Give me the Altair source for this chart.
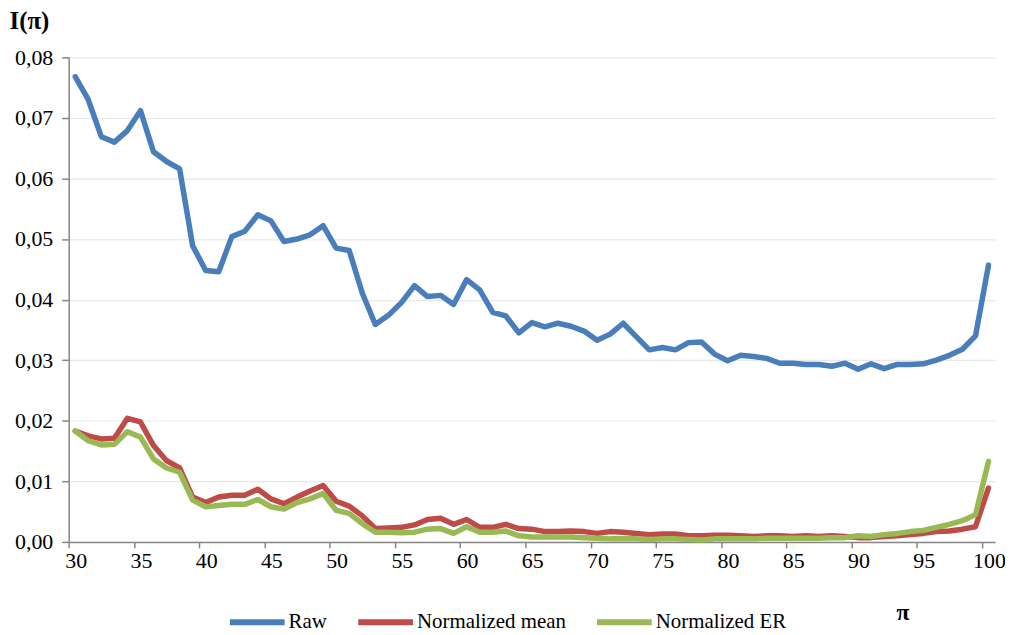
import altair as alt
import pandas as pd

pi_values = list(range(30, 101))

raw = [0.0768, 0.0730, 0.0669, 0.0660, 0.0679, 0.0712, 0.0644, 0.0628, 0.0616, 0.0489,
       0.0448, 0.0446, 0.0504, 0.0513, 0.0540, 0.0530, 0.0496, 0.0500, 0.0507, 0.0522,
       0.0485, 0.0481, 0.0411, 0.0359, 0.0374, 0.0395, 0.0423, 0.0405, 0.0407, 0.0392,
       0.0433, 0.0416, 0.0379, 0.0373, 0.0345, 0.0362, 0.0355, 0.0361, 0.0356, 0.0348,
       0.0333, 0.0343, 0.0361, 0.0339, 0.0317, 0.0321, 0.0317, 0.0329, 0.0330, 0.0310,
       0.0299, 0.0308, 0.0306, 0.0303, 0.0295, 0.0295, 0.0293, 0.0293, 0.0290, 0.0295,
       0.0285, 0.0294, 0.0286, 0.0293, 0.0293, 0.0294, 0.0300, 0.0308, 0.0318, 0.0340,
       0.0457]

norm_mean = [0.0183, 0.0175, 0.0170, 0.0171, 0.0204, 0.0198, 0.0159, 0.0134, 0.0122, 0.0074,
             0.0065, 0.0074, 0.0077, 0.0077, 0.0087, 0.0071, 0.0063, 0.0074, 0.0084, 0.0093,
             0.0067, 0.0059, 0.0043, 0.0022, 0.0023, 0.0024, 0.0028, 0.0037, 0.0039, 0.0029,
             0.0037, 0.0024, 0.0024, 0.0029, 0.0022, 0.0021, 0.0017, 0.0017, 0.0018, 0.0017,
             0.0014, 0.0017, 0.0016, 0.0014, 0.0012, 0.0013, 0.0013, 0.0010, 0.0010, 0.0011,
             0.0011, 0.0010, 0.0009, 0.0010, 0.0010, 0.0009, 0.0010, 0.0009, 0.0010, 0.0009,
             0.0007, 0.0007, 0.0009, 0.0010, 0.0012, 0.0014, 0.0017, 0.0018, 0.0021, 0.0025,
             0.0089]

norm_er = [0.0183, 0.0167, 0.0160, 0.0161, 0.0182, 0.0173, 0.0137, 0.0122, 0.0115, 0.0069,
           0.0058, 0.0060, 0.0062, 0.0062, 0.0070, 0.0058, 0.0054, 0.0065, 0.0071, 0.0080,
           0.0052, 0.0047, 0.0030, 0.0016, 0.0016, 0.0015, 0.0016, 0.0021, 0.0022, 0.0014,
           0.0025, 0.0016, 0.0016, 0.0018, 0.0010, 0.0008, 0.0008, 0.0008, 0.0008, 0.0007,
           0.0006, 0.0005, 0.0005, 0.0005, 0.0004, 0.0005, 0.0005, 0.0004, 0.0003, 0.0005,
           0.0005, 0.0005, 0.0005, 0.0006, 0.0006, 0.0006, 0.0006, 0.0006, 0.0007, 0.0007,
           0.0010, 0.0009, 0.0012, 0.0014, 0.0017, 0.0019, 0.0024, 0.0029, 0.0035, 0.0045,
           0.0133]

series_names = ["Raw", "Normalized mean", "Normalized ER"]
series_colors = ["#4A7EBB", "#BE4B48", "#98B954"]
y_ticks = [0.0, 0.01, 0.02, 0.03, 0.04, 0.05, 0.06, 0.07, 0.08]
x_label_values = list(range(30, 101, 5))
x_tick_values = [v - 0.5 for v in x_label_values]

frames = []
for name, vals in zip(series_names, [raw, norm_mean, norm_er]):
    frames.append(pd.DataFrame({"pi": pi_values, "I": vals, "series": name}))
df = pd.concat(frames, ignore_index=True)

FONT = "Liberation Serif"

x_enc = alt.X(
    "pi:Q",
    scale=alt.Scale(domain=[29.5, 100.5], nice=False, zero=False),
    axis=alt.Axis(
        values=x_tick_values,
        labelExpr="format(datum.value + 0.5, 'd')",
        labelOffset=7,
        labelFlush=False,
        labelOverlap=False,
        grid=False,
        tickSize=6,
        tickColor="#868686",
        tickWidth=1.5,
        domainColor="#868686",
        domainWidth=1.5,
        labelFont=FONT,
        labelFontSize=22,
        labelColor="#000000",
        labelPadding=3,
        title="π",
        titleFont=FONT,
        titleFontSize=24,
        titleFontWeight="bold",
        titleColor="#000000",
        titleX=838,
        titleY=71,
        titleAlign="center",
        titleBaseline="middle",
    ),
)

y_enc = alt.Y(
    "I:Q",
    scale=alt.Scale(domain=[0, 0.08], nice=False),
    axis=alt.Axis(
        values=y_ticks,
        labelExpr="replace(format(datum.value, '.2f'), '.', ',')",
        grid=True,
        gridColor="#E8E8E8",
        gridWidth=1.2,
        tickSize=7,
        tickColor="#868686",
        tickWidth=1.5,
        domainColor="#868686",
        domainWidth=1.5,
        labelFont=FONT,
        labelFontSize=22,
        labelColor="#000000",
        labelPadding=9,
        title="I(π)",
        titleFont=FONT,
        titleFontSize=25,
        titleFontWeight="bold",
        titleColor="#000000",
        titleAngle=0,
        titleX=-60,
        titleY=-37,
        titleAlign="left",
        titleBaseline="middle",
    ),
)

color_enc = alt.Color(
    "series:N",
    scale=alt.Scale(domain=series_names, range=series_colors),
    legend=alt.Legend(
        title=None,
        orient="none",
        direction="horizontal",
        legendX=159,
        legendY=537,
        symbolType="stroke",
        symbolSize=3025,
        symbolStrokeWidth=6,
        labelFont=FONT,
        labelFontSize=21,
        labelColor="#000000",
        labelOffset=1,
        labelLimit=0,
        columnPadding=19,
        padding=0,
    ),
)

layers = []
for name in series_names:
    layers.append(
        alt.Chart(df)
        .transform_filter(alt.datum.series == name)
        .mark_line(strokeWidth=5.5, strokeCap="round", strokeJoin="round")
        .encode(x=x_enc, y=y_enc, color=color_enc)
    )

chart = (
    alt.layer(*layers)
    .properties(
        width=931,
        height=487,
        autosize=alt.AutoSizeParams(type="none"),
        padding={"left": 61, "top": 48, "right": 10, "bottom": 90},
        background="#FFFFFF",
    )
    .configure_view(stroke=None)
)

chart.save("out.html", embed_options={"renderer": "svg", "actions": False})
